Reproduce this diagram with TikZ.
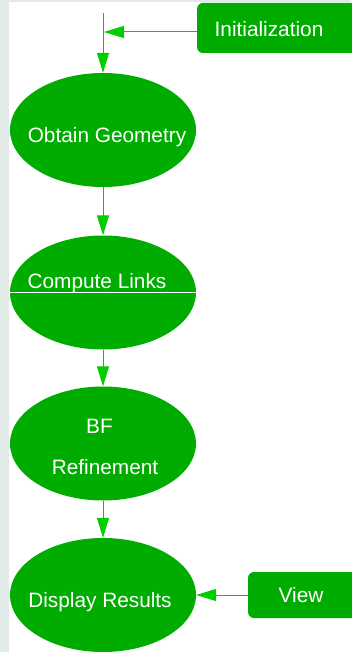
\documentclass[tikz,border=0pt]{standalone}
\usepackage{fontspec}
\setmainfont{Liberation Sans}
\usetikzlibrary{shapes.geometric}
\usetikzlibrary{arrows.meta}

\definecolor{stepgreen}{RGB}{0,172,0}
\definecolor{linegreen}{RGB}{0,206,0}
\definecolor{edgegray}{RGB}{226,234,232}

\tikzset{
  oval/.style={ellipse,fill=stepgreen,minimum width=186pt,minimum height=114pt,inner sep=0pt},
  tab/.style={rectangle,rounded corners=6pt,fill=stepgreen,inner sep=0pt},
  txt/.style={text=white,font=\fontsize{20.8}{24}\selectfont,anchor=base,inner sep=0pt},
  flow/.style={draw=linegreen,line width=1pt,-{Triangle[length=20pt,width=12pt]}}
}

\begin{document}
\begin{tikzpicture}[x=1pt,y=-1pt]

\useasboundingbox (0,0) rectangle (351,652);
% frame
\fill[edgegray] (0,0) rectangle (351,652);
\fill[white] (9,2) rectangle (351,652);

% steps
\node[oval] (geom) at (103,130) {};
\node[oval] (links) at (103,292.5) {};
\node[oval] (refine) at (103,443.5) {};
\node[oval] (display) at (103,595) {};
\draw[white,line width=1pt] (links.west) -- (links.east);

% side boxes
\node[tab,minimum width=163pt,minimum height=50pt] (init) at (278.5,28) {};
\node[tab,minimum width=112pt,minimum height=46pt] (view) at (304,595) {};

% labels
\node[txt] (geomtxt) at (107,143) {Obtain Geometry};
\node[txt] (linkstxt) at (97,288) {Compute Links};
\node[txt] (bftxt) at (99.5,433) {BF};
\node[txt] (refinetxt) at (105,474) {Refinement};
\node[txt] (displaytxt) at (100,607) {Display Results};
\node[txt] (inittxt) at (269,37) {Initialization};
\node[txt] (viewtxt) at (301,602) {View};

% arrows
\coordinate (start) at (103,13);
\coordinate (join) at (104,32);
\draw[flow] (start) -- (geom.north);
\draw[flow] ([yshift=-4pt]init.west) -- (join);
\draw[flow] (geom.south) -- (links.north);
\draw[flow] (links.south) -- (refine.north);
\draw[flow] (refine.south) -- (display.north);
\draw[flow] (view.west) -- (display.east);

\end{tikzpicture}
\end{document}
